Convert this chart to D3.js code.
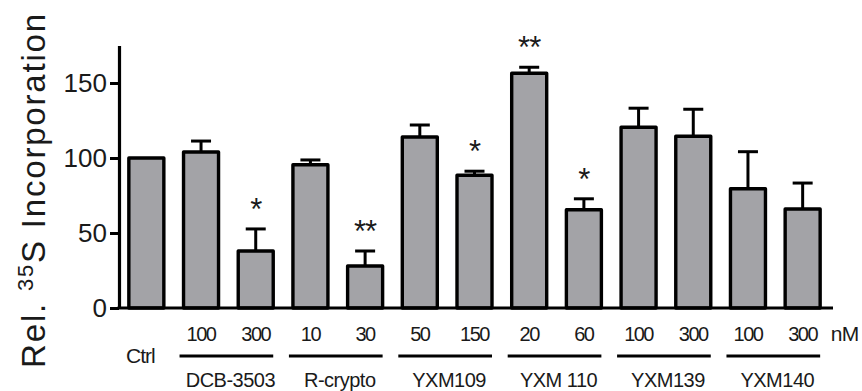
<!DOCTYPE html>
<html><head><meta charset="utf-8">
<script src="https://cdn.jsdelivr.net/npm/d3@7"></script>
<style>body{margin:0;background:#fff}svg{display:block}text{font-family:"Liberation Sans",Arial,sans-serif;fill:#1a1a1a}</style>
</head><body><svg id="c" width="862" height="391"></svg>
<script>
const categories = ["Ctrl","DCB-100","DCB-300","Rc-10","Rc-30","Y109-50","Y109-150","Y110-20","Y110-60","Y139-100","Y139-300","Y140-100","Y140-300"];
const values = [100, 104, 38, 95.5, 28, 114, 88.5, 156.5, 65.5, 120.5, 114.5, 79.5, 66];
const errors = [0, 7.3, 14.7, 3.2, 10, 8, 2.7, 4, 7.3, 12.7, 18, 24.7, 17.3];
const doseLabels = ["", "100","300","10","30","50","150","20","60","100","300","100","300"];
const stars = ["", "", "*", "", "**", "", "*", "**", "*", "", "", "", ""];
const groupNames = ["DCB-3503","R-crypto","YXM109","YXM 110","YXM139","YXM140"];
const groupFirst = [1,3,5,7,9,11];
const yTicks = [0,50,100,150];

const svg = d3.select("#c");
const x = d3.scaleBand().domain(categories).range([119, 830]).paddingInner(0.36).paddingOuter(0.18);
const y = d3.scaleLinear().domain([0,175]).range([308, 45.5]);
const cx = c => x(c) + x.bandwidth()/2;

// bars
svg.append("g").selectAll("rect").data(categories).join("rect")
  .attr("x", c => x(c)).attr("width", x.bandwidth())
  .attr("y", (c,i) => y(values[i])).attr("height", (c,i) => y(0) - y(values[i]))
  .attr("fill", "#a3a3a7").attr("stroke", "#000").attr("stroke-width", 3.4)
  .attr("stroke-linejoin","round");

// error bars
const eg = svg.append("g").attr("stroke","#000").attr("stroke-width",3);
categories.forEach((c,i) => {
  if (!errors[i]) return;
  eg.append("line").attr("x1",cx(c)).attr("x2",cx(c)).attr("y1",y(values[i])).attr("y2",y(values[i]+errors[i]));
  eg.append("line").attr("x1",cx(c)-10).attr("x2",cx(c)+10).attr("y1",y(values[i]+errors[i])).attr("y2",y(values[i]+errors[i]));
});

// stars
svg.append("g").selectAll("text").data(categories).join("text")
  .attr("x", c => cx(c)).attr("y", (c,i) => y(values[i]+errors[i]) - 26 + 17)
  .attr("text-anchor","middle").style("font-size","31px").style("letter-spacing","-1px")
  .text((c,i) => stars[i]);

// y axis
const ya = svg.append("g").attr("transform","translate(119,0)")
  .call(d3.axisLeft(y).tickValues(yTicks).tickSize(9).tickPadding(3).tickSizeOuter(0));
ya.select(".domain").attr("stroke","#000").attr("stroke-width",3.2);
ya.selectAll(".tick line").attr("stroke","#000").attr("stroke-width",3);
ya.selectAll(".tick text").style("font-size","26px").attr("fill","#1a1a1a").style("font-family",'"Liberation Sans",Arial,sans-serif');

// x axis line
const xa = svg.append("g").attr("transform","translate(0,308)")
  .call(d3.axisBottom(x).tickSize(0).tickFormat(""));
xa.select(".domain").attr("d","M117.5,0H833").attr("stroke","#000").attr("stroke-width",3.2);

// dose labels
svg.append("g").selectAll("text").data(categories).join("text")
  .attr("x", c => cx(c)).attr("y", 341)
  .attr("text-anchor","middle").style("font-size","20px").style("letter-spacing","-1.5px")
  .text((c,i) => doseLabels[i]);
svg.append("text").attr("x", cx(categories[12]) + 28).attr("y", 341)
  .style("font-size","21px").style("letter-spacing","-0.5px").text("nM");
svg.append("text").attr("x", cx(categories[0]) - 6).attr("y", 363)
  .attr("text-anchor","middle").style("font-size","21px").style("letter-spacing","-1px").text("Ctrl");

// group lines and names
groupNames.forEach((g,k) => {
  const a = categories[groupFirst[k]], b = categories[groupFirst[k]+1];
  svg.append("line").attr("x1", x(a) - 4).attr("x2", x(b) + x.bandwidth())
    .attr("y1",356).attr("y2",356).attr("stroke","#000").attr("stroke-width",3.2);
  svg.append("text").attr("x", (cx(a)+cx(b))/2 + 2).attr("y", 387)
    .attr("text-anchor","middle").style("font-size","20px").style("letter-spacing","-0.5px").text(g);
});

// y label
const yl = svg.append("text").attr("transform","translate(45,190) rotate(-90)")
  .attr("text-anchor","middle").style("font-size","33px").style("letter-spacing","1.8px");
yl.append("tspan").text("Rel. ");
yl.append("tspan").attr("baseline-shift","super").style("font-size","22px").text("35");
yl.append("tspan").text("S Incorporation");
</script></body></html>
